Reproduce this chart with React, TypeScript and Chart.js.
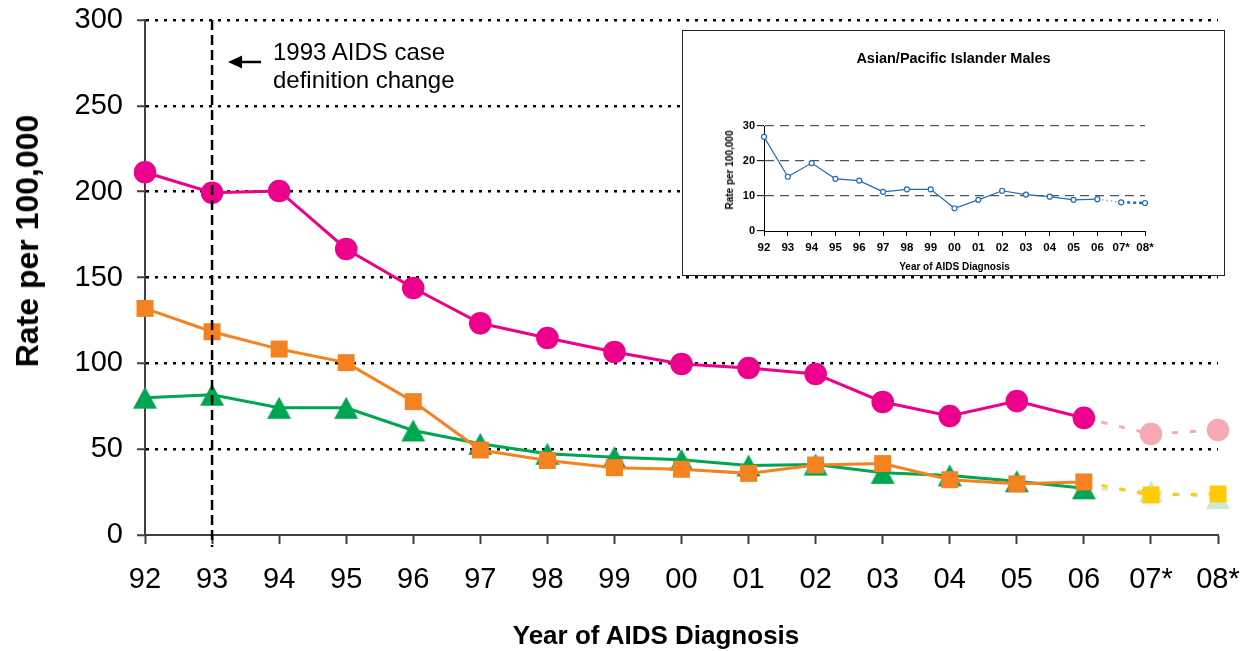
import React, { useEffect, useRef } from 'react';
import { Chart, registerables } from 'chart.js';

Chart.register(...registerables);

const FONT = "Arial, 'Liberation Sans', sans-serif";

// ---------- data ----------
const categories = ['92', '93', '94', '95', '96', '97', '98', '99', '00', '01', '02', '03', '04', '05', '06', '07*', '08*'];
const firstProjectedIndex = 15; // 07* and 08* are projected
const definitionChangeCategory = '93';

const circleRates = [211.3, 199.4, 200.4, 166.6, 143.9, 123.3, 114.8, 106.6, 99.6, 97.3, 93.8, 77.5, 69.3, 78.0, 68.2, 58.8, 61.2];
const squareRates = [132.0, 118.4, 108.3, 100.4, 77.7, 49.5, 43.4, 39.2, 38.3, 35.9, 40.8, 41.6, 32.2, 29.8, 30.9, 23.3, 23.9];
const triangleRates = [80.0, 81.7, 74.1, 74.1, 60.9, 53.1, 47.3, 45.3, 43.8, 40.5, 41.0, 36.2, 34.7, 31.3, 27.2, 25.5, 21.5];
const insetRates = [26.9, 15.5, 19.4, 14.9, 14.4, 11.2, 11.9, 11.9, 6.5, 8.9, 11.5, 10.4, 9.8, 8.9, 9.1, 8.2, 8.0];

const mainYMax = 300;
const mainYStep = 50;
const insetYMax = 30;
const insetYStep = 10;

// ---------- colours ----------
const C_MAGENTA = '#EC008C';
const C_PINK = '#F7A9B1';
const C_ORANGE = '#F58220';
const C_YELLOW = '#FFCB05';
const C_GREEN = '#00A651';
const C_PALEGREEN = '#CDE8D6';
const C_BLUE = '#1F6AB4';
const C_LIGHTBLUE = '#6FA3D8';

function makeTriangle(color: string, w: number, h: number): HTMLCanvasElement {
  const c = document.createElement('canvas');
  c.width = w + 2;
  c.height = h + 2;
  const g = c.getContext('2d')!;
  g.fillStyle = color;
  g.beginPath();
  g.moveTo(c.width / 2, 1);
  g.lineTo(w + 1, h + 1);
  g.lineTo(1, h + 1);
  g.closePath();
  g.fill();
  return c;
}

const isProj = (i: number) => i >= firstProjectedIndex;

const overlayPlugin = {
  id: 'overlay',
  afterDatasetsDraw(chart: any) {
    const { ctx, chartArea, scales } = chart;
    const x = scales.x.getPixelForValue(categories.indexOf(definitionChangeCategory));
    ctx.save();
    ctx.strokeStyle = '#000';
    ctx.lineWidth = 2.5;
    ctx.setLineDash([10, 5]);
    ctx.beginPath();
    ctx.moveTo(x, chartArea.top);
    ctx.lineTo(x, chartArea.bottom + 12);
    ctx.stroke();
    ctx.setLineDash([]);
    // arrow pointing to the line
    const ay = 62;
    const tip = x + 16;
    ctx.fillStyle = '#000';
    ctx.beginPath();
    ctx.moveTo(tip, ay);
    ctx.lineTo(tip + 14, ay - 6.5);
    ctx.lineTo(tip + 14, ay + 6.5);
    ctx.closePath();
    ctx.fill();
    ctx.lineWidth = 2.5;
    ctx.beginPath();
    ctx.moveTo(tip + 12, ay);
    ctx.lineTo(tip + 33, ay);
    ctx.stroke();
    ctx.restore();
  },
};

const noPad = (s: any) => {
  s.paddingTop = 0;
  s.paddingBottom = 0;
  s.paddingLeft = 0;
  s.paddingRight = 0;
};

export default function App() {
  const mainRef = useRef<HTMLCanvasElement>(null);
  const insetRef = useRef<HTMLCanvasElement>(null);

  useEffect(() => {
    const triMain = makeTriangle(C_GREEN, 24, 22);
    const triProj = makeTriangle(C_PALEGREEN, 24, 22);

    const projSegment = (main: string, proj: string) => ({
      borderColor: (c: any) => (isProj(c.p1DataIndex) ? proj : main),
      borderDash: (c: any) => (isProj(c.p1DataIndex) ? [6, 12] : []),
    });

    const main = new Chart(mainRef.current!, {
      type: 'line',
      data: {
        labels: categories,
        datasets: [
          {
            data: circleRates,
            borderColor: C_MAGENTA,
            borderWidth: 3,
            pointStyle: 'circle',
            pointRadius: 11.3,
            pointBorderWidth: 0,
            pointBackgroundColor: (c: any) => (isProj(c.dataIndex) ? C_PINK : C_MAGENTA),
            pointBorderColor: (c: any) => (isProj(c.dataIndex) ? C_PINK : C_MAGENTA),
            segment: projSegment(C_MAGENTA, C_PINK),
          },
          {
            data: squareRates,
            borderColor: C_ORANGE,
            borderWidth: 3,
            pointStyle: 'rect',
            pointRadius: 12,
            pointBorderWidth: 0,
            pointBackgroundColor: (c: any) => (isProj(c.dataIndex) ? C_YELLOW : C_ORANGE),
            pointBorderColor: (c: any) => (isProj(c.dataIndex) ? C_YELLOW : C_ORANGE),
            segment: projSegment(C_ORANGE, C_YELLOW),
          },
          {
            data: triangleRates,
            borderColor: C_GREEN,
            borderWidth: 3,
            pointStyle: (c: any) => (isProj(c.dataIndex) ? triProj : triMain),
            pointRadius: 12,
            segment: projSegment(C_GREEN, C_PALEGREEN),
          },
        ],
      },
      options: {
        animation: false,
        responsive: false,
        maintainAspectRatio: false,
        layout: { padding: { left: 0, right: 31, top: 20, bottom: 0 } },
        plugins: { legend: { display: false }, tooltip: { enabled: false }, title: { display: false } },
        elements: { line: { tension: 0 } },
        scales: {
          x: {
            type: 'category',
            offset: false,
            grid: { drawOnChartArea: false, drawTicks: true, tickLength: 9, tickColor: '#404040', tickWidth: 2 },
            border: { color: '#404040', width: 2 },
            ticks: { font: { family: FONT, size: 29 }, color: '#000', padding: 19, maxRotation: 0, autoSkip: false },
            afterFit: (s: any) => {
              s.height = 116;
              noPad(s);
            },
          },
          y: {
            min: 0,
            max: mainYMax,
            ticks: { stepSize: mainYStep, font: { family: FONT, size: 29 }, color: '#000', padding: 14 },
            grid: {
              color: (c: any) => (c.tick && c.tick.value === 0 ? 'rgba(0,0,0,0)' : '#000'),
              lineWidth: 2.5,
              tickLength: 8,
              tickColor: '#404040',
              tickWidth: 2,
              tickBorderDash: [],
            },
            border: { color: '#404040', width: 2, dash: [3, 6] },
            afterFit: (s: any) => {
              s.width = 145;
              noPad(s);
            },
          },
        },
      },
      plugins: [overlayPlugin],
    } as any);

    const inset = new Chart(insetRef.current!, {
      type: 'line',
      data: {
        labels: categories,
        datasets: [
          {
            data: insetRates,
            borderColor: C_BLUE,
            borderWidth: 1.2,
            pointStyle: 'circle',
            pointRadius: 2.5,
            pointBorderWidth: 1.2,
            pointBackgroundColor: '#fff',
            pointBorderColor: C_BLUE,
            segment: {
              borderColor: (c: any) => (c.p1DataIndex === firstProjectedIndex ? C_LIGHTBLUE : C_BLUE),
              borderDash: (c: any) =>
                c.p1DataIndex === firstProjectedIndex ? [1.5, 3] : isProj(c.p1DataIndex) ? [3, 3] : [],
              borderWidth: (c: any) => (c.p1DataIndex > firstProjectedIndex ? 2.5 : 1.2),
            },
          },
        ],
      },
      options: {
        animation: false,
        responsive: false,
        maintainAspectRatio: false,
        layout: { padding: { left: 0, right: 79, top: 95, bottom: 0 } },
        plugins: { legend: { display: false }, tooltip: { enabled: false }, title: { display: false } },
        scales: {
          x: {
            type: 'category',
            offset: false,
            grid: { drawOnChartArea: false, drawTicks: true, tickLength: 5, tickColor: '#000', tickWidth: 1 },
            border: { color: '#000', width: 1 },
            ticks: { font: { family: FONT, size: 11.5, weight: 'bold' }, color: '#000', padding: 5, maxRotation: 0, autoSkip: false },
            title: {
              display: true,
              text: 'Year of AIDS Diagnosis',
              font: { family: FONT, size: 10, weight: 'bold' },
              color: '#000',
              padding: { top: 0, bottom: 2 },
            },
            afterFit: (s: any) => {
              s.height = 44;
              noPad(s);
            },
          },
          y: {
            min: 0,
            max: insetYMax,
            ticks: { stepSize: insetYStep, font: { family: FONT, size: 11, weight: 'bold' }, color: '#000', padding: 2 },
            grid: {
              color: (c: any) => (c.tick && c.tick.value === 0 ? 'rgba(0,0,0,0)' : '#555'),
              lineWidth: 1.3,
              tickLength: 7,
              tickColor: '#000',
              tickWidth: 1,
              tickBorderDash: [],
            },
            border: { color: '#000', width: 1, dash: [9, 6] },
            afterFit: (s: any) => {
              s.width = 81;
              noPad(s);
            },
          },
        },
      },
    } as any);

    return () => {
      main.destroy();
      inset.destroy();
    };
  }, []);

  return (
    <div style={{ position: 'fixed', left: 0, top: 0, width: 1249, height: 651, background: '#fff', overflow: 'hidden', fontFamily: FONT }}>
      <canvas ref={mainRef} width={1249} height={651} style={{ position: 'absolute', left: 0, top: 0, width: 1249, height: 651 }} />
      <div
        style={{
          position: 'absolute',
          left: 27,
          top: 241,
          transform: 'translate(-50%, -50%) rotate(-90deg)',
          whiteSpace: 'nowrap',
          fontSize: 32,
          lineHeight: '32px',
          fontWeight: 'bold',
          color: '#000',
        }}
      >
        Rate per 100,000
      </div>
      <div
        style={{
          position: 'absolute',
          left: 656,
          top: 622,
          transform: 'translateX(-50%)',
          whiteSpace: 'nowrap',
          fontSize: 26,
          lineHeight: '26px',
          fontWeight: 'bold',
          color: '#000',
        }}
      >
        Year of AIDS Diagnosis
      </div>
      <div style={{ position: 'absolute', left: 273, top: 38, fontSize: 24, lineHeight: '28px', color: '#000', whiteSpace: 'nowrap' }}>
        1993 AIDS case
        <br />
        definition change
      </div>
      <div
        style={{
          position: 'absolute',
          left: 682,
          top: 30,
          width: 541,
          height: 244,
          border: '1px solid #222',
          background: '#fff',
        }}
      >
        <canvas ref={insetRef} width={541} height={244} style={{ position: 'absolute', left: 0, top: 0, width: 541, height: 244 }} />
        <div
          style={{
            position: 'absolute',
            left: 0,
            width: 541,
            top: 20,
            textAlign: 'center',
            fontSize: 14.5,
            lineHeight: '14.5px',
            fontWeight: 'bold',
            color: '#000',
          }}
        >
          Asian/Pacific Islander Males
        </div>
        <div
          style={{
            position: 'absolute',
            left: 47,
            top: 139,
            transform: 'translate(-50%, -50%) rotate(-90deg)',
            whiteSpace: 'nowrap',
            fontSize: 10,
            lineHeight: '10px',
            fontWeight: 'bold',
            color: '#000',
          }}
        >
          Rate per 100,000
        </div>
      </div>
    </div>
  );
}
